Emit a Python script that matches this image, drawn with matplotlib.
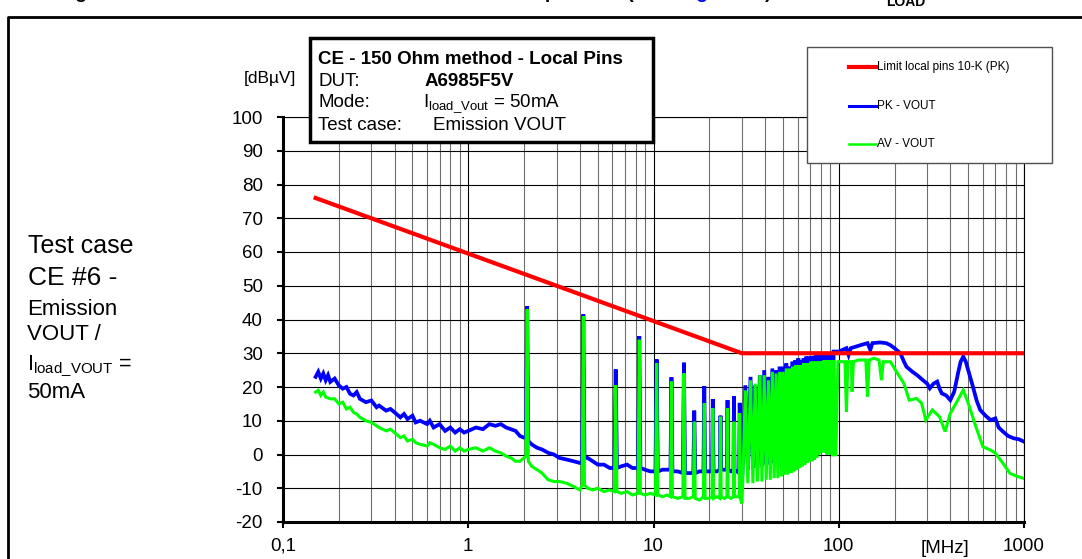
import numpy as np
import matplotlib
matplotlib.use("Agg")
import matplotlib.pyplot as plt
from matplotlib.patches import Rectangle
from matplotlib.lines import Line2D
from matplotlib.ticker import LogLocator, NullFormatter

plt.rcParams['font.family'] = ['Liberation Sans', 'DejaVu Sans']
plt.rcParams['mathtext.fontset'] = 'custom'
plt.rcParams['mathtext.rm'] = 'Liberation Sans'
plt.rcParams['mathtext.it'] = 'Liberation Sans:italic'
plt.rcParams['mathtext.bf'] = 'Liberation Sans:bold'
plt.rcParams['axes.unicode_minus'] = False

# ---------------- data ----------------
x_ticks = [0.1, 1, 10, 100, 1000]
x_tick_labels = ["0,1", "1", "10", "100", "1000"]
y_ticks = [-20, -10, 0, 10, 20, 30, 40, 50, 60, 70, 80, 90, 100]

limit_freq = [0.15, 30, 1000]
limit_db = [76, 30, 30]

# PK (blue) below 30 MHz: (MHz, dBuV)
pk_low = [(0.150, 23.0), (0.155, 24.5), (0.16, 22.5), (0.165, 24.0), (0.17, 22.0), (0.175, 23.5),
          (0.18, 21.5), (0.19, 22.5), (0.20, 20.5), (0.21, 19.5), (0.22, 20.0), (0.23, 18.0),
          (0.24, 17.5), (0.25, 18.5), (0.26, 16.5), (0.28, 15.5), (0.30, 16.0), (0.32, 14.0),
          (0.33, 14.5), (0.36, 13.0), (0.38, 13.5), (0.40, 12.5), (0.43, 11.0), (0.45, 12.0),
          (0.47, 10.5), (0.50, 11.5), (0.52, 9.5), (0.55, 10.0), (0.60, 9.0), (0.62, 10.0),
          (0.65, 8.0), (0.70, 9.0), (0.75, 7.0), (0.80, 8.0), (0.85, 6.5), (0.90, 7.5),
          (0.95, 6.5), (1.0, 7.0), (1.1, 8.0), (1.2, 7.5), (1.3, 9.0), (1.4, 8.5), (1.5, 9.0),
          (1.6, 8.0), (1.7, 7.5), (1.8, 7.0), (1.9, 5.5), (2.0, 5.0), (2.05, 5.0), (2.08, 44.0),
          (2.11, 4.0), (2.2, 3.0), (2.35, 2.0), (2.5, 1.5), (2.7, 0.5), (2.9, 0.0), (3.1, -1.0),
          (3.4, -1.5), (3.7, -2.0), (4.0, -2.5), (4.12, -2.0), (4.18, 41.5), (4.24, -1.0),
          (4.4, -1.0), (4.7, -2.0), (5.0, -3.0), (5.4, -3.0), (5.8, -4.0), (6.15, -4.0),
          (6.25, 25.2), (6.35, -4.0), (6.7, -3.5), (7.2, -3.0), (7.7, -4.0), (8.25, -4.0),
          (8.38, 35.1), (8.5, -4.0), (9.0, -4.5), (9.6, -5.0), (10.25, -5.0), (10.4, 28.2),
          (10.55, -5.0), (11.2, -4.5), (11.8, -4.5), (12.35, -4.5), (12.5, 22.9), (12.65, -5.0),
          (13.5, -5.0), (14.4, -5.5), (14.6, 27.2), (14.8, -5.5), (15.6, -5.5), (16.4, -5.5),
          (16.6, 13.0), (16.8, -5.5), (17.7, -5.0), (18.6, -5.0), (18.8, 20.3), (19.0, -5.0),
          (19.9, -5.0), (20.7, -5.0), (20.9, 16.4), (21.1, -5.0), (22.0, -5.0), (22.8, -4.5),
          (23.0, 11.5), (23.2, -4.5), (24.1, -4.5), (24.9, -4.5), (25.1, 16.1), (25.3, -4.5),
          (26.2, -5.0), (27.0, -5.0), (27.2, 17.3), (27.4, -5.0), (28.2, -5.0), (29.0, -5.5),
          (29.2, 15.3), (29.4, -5.0), (30.2, -5.5)]

# AV (green) below 30 MHz
av_low = [(0.150, 18.5), (0.155, 19.0), (0.16, 17.5), (0.165, 18.5), (0.17, 17.0), (0.18, 16.5),
          (0.19, 16.5), (0.20, 15.0), (0.21, 15.5), (0.22, 13.5), (0.23, 14.0), (0.24, 12.5),
          (0.25, 12.0), (0.26, 11.0), (0.28, 10.0), (0.30, 9.5), (0.32, 8.5), (0.33, 8.0),
          (0.36, 7.0), (0.38, 7.5), (0.40, 6.5), (0.43, 5.0), (0.45, 5.5), (0.47, 4.0),
          (0.50, 4.5), (0.52, 3.5), (0.55, 3.0), (0.60, 2.5), (0.62, 3.5), (0.65, 3.0),
          (0.70, 2.0), (0.75, 1.5), (0.80, 2.5), (0.85, 1.0), (0.90, 2.0), (0.95, 1.0),
          (1.0, 1.5), (1.1, 2.0), (1.2, 1.0), (1.3, 2.0), (1.4, 1.0), (1.5, 0.5), (1.6, -0.5),
          (1.7, -1.0), (1.8, -2.0), (1.9, -2.0), (2.0, -1.0), (2.05, -0.5), (2.08, 43.0),
          (2.11, -2.0), (2.2, -3.5), (2.35, -4.5), (2.5, -5.5), (2.7, -7.5), (2.9, -8.0),
          (3.1, -8.0), (3.4, -8.5), (3.7, -9.5), (4.0, -10.5), (4.12, -9.0), (4.18, 41.0),
          (4.24, -9.0), (4.4, -10.0), (4.7, -10.5), (5.0, -10.0), (5.4, -11.0), (5.8, -10.5),
          (6.15, -11.0), (6.25, 20.6), (6.35, -11.0), (6.7, -11.5), (7.2, -11.0), (7.7, -12.0),
          (8.25, -11.5), (8.38, 34.0), (8.5, -11.5), (9.0, -12.0), (9.6, -11.5), (10.25, -12.0),
          (10.4, 27.0), (10.55, -12.0), (11.2, -12.5), (11.8, -12.0), (12.35, -12.5),
          (12.5, 21.6), (12.65, -12.5), (13.5, -13.0), (14.4, -12.5), (14.6, 24.0),
          (14.8, -13.0), (15.6, -13.0), (16.4, -12.5), (16.6, 9.7), (16.8, -13.0),
          (17.7, -13.5), (18.6, -12.5), (18.8, 15.2), (19.0, -13.0), (19.9, -13.0),
          (20.7, -12.5), (20.9, 13.7), (21.1, -13.0), (22.0, -12.5), (22.8, -13.0),
          (23.0, 11.2), (23.2, -12.5), (24.1, -13.0), (24.9, -12.5), (25.1, 13.7),
          (25.3, -12.5), (26.2, -13.0), (27.0, -12.5), (27.2, 9.7), (27.4, -12.5),
          (28.2, -12.5), (29.0, -12.5), (29.2, 12.2), (29.4, -13.0), (30.0, -14.5),
          (30.3, -8.5)]

# harmonic comb 30 - 95 MHz: peaks and the valleys between them
comb_top_freq = [31.3, 33.4, 35.4, 37.5, 39.6, 41.7, 43.8, 45.9, 48.0, 50.0, 52.1, 54.2, 56.3,
                 58.4, 60.5, 62.6, 64.6, 66.7, 68.8, 70.9, 73.0, 75.1, 77.1, 79.2, 81.3, 83.4,
                 85.5, 87.6, 89.7, 91.7, 93.8]
pk_comb_top = [20.5, 23.0, 20.5, 23.5, 25.0, 23.0, 25.5, 25.0, 26.0, 26.0, 27.0, 26.0, 27.5,
               28.0, 28.5, 28.0, 28.5, 29.0, 29.0, 29.0, 29.2, 29.5, 29.5, 29.8, 30.0, 30.0,
               30.0, 30.2, 30.2, 30.3, 30.5]
av_comb_top = [19.0, 22.0, 21.0, 23.5, 23.5, 22.0, 24.5, 24.0, 24.5, 24.5, 25.5, 25.5, 26.0,
               26.5, 26.5, 26.5, 27.0, 27.0, 27.0, 27.5, 27.5, 27.5, 27.5, 27.5, 27.5, 28.0,
               28.0, 28.0, 28.0, 28.0, 28.0]
comb_valley_freq = [32.3, 34.4, 36.4, 38.5, 40.6, 42.7, 44.8, 46.9, 49.0, 51.0, 53.1, 55.2, 57.3,
                    59.4, 61.5, 63.6, 65.6, 67.7, 69.8, 71.9, 74.0, 76.1, 78.1, 80.2, 82.3, 84.4,
                    86.5, 88.6, 90.7, 92.8]
pk_comb_valley = [-4.5, -4.0, -4.0, -3.5, -3.0, -3.0, -2.5, -2.0, -2.0, -1.5, -1.0, -0.5, 0.0,
                  0.5, 1.0, 1.5, 2.0, 2.5, 3.0, 3.0, 3.5, 4.0, 4.5, 5.0, 5.0, 5.0, 5.0, 5.0,
                  5.0, 4.5]
av_comb_valley = [-8.5, -8.5, -8.0, -8.0, -7.5, -7.5, -7.0, -7.0, -6.5, -6.0, -6.0, -5.5, -5.0,
                  -4.5, -4.0, -3.5, -3.0, -2.5, -2.0, -2.0, -1.5, -1.0, 0.0, 0.5, 1.0, 0.5,
                  0.0, 0.5, 0.0, -0.5]

# above ~95 MHz
pk_high = [(95, 30.5), (100, 30.5), (105, 31.0), (110, 31.5), (113, 29.5), (116, 31.5),
           (124, 32.0), (133, 32.5), (143, 33.0), (148, 31.0), (152, 33.0), (167, 33.2),
           (180, 33.0), (190, 32.4), (200, 31.5), (215, 30.0), (225, 27.5), (232, 26.0),
           (250, 24.5), (265, 23.5), (285, 22.0), (300, 21.0), (310, 19.6), (325, 21.0),
           (340, 21.6), (350, 19.5), (360, 18.1), (380, 17.5), (400, 16.1), (420, 18.6),
           (440, 24.0), (455, 27.5), (470, 29.0), (485, 27.5), (500, 25.0), (530, 20.1),
           (555, 16.0), (580, 13.2), (620, 11.5), (660, 10.2), (700, 10.7), (730, 8.0),
           (770, 6.8), (820, 5.5), (880, 4.8), (940, 4.5), (1000, 3.8)]
av_high = [(96.5, -0.5), (99, 27.5), (102, 27.5), (108, 27.5), (110, 12.7), (112, 27.5),
           (117, 27.5), (118, 18.6), (120, 27.5), (128, 28.0), (140, 28.0), (143, 17.1),
           (146, 28.0), (155, 28.5), (165, 28.0), (170, 22.0), (174, 27.5), (190, 27.5),
           (205, 24.5), (225, 21.0), (240, 16.1), (263, 16.6), (280, 15.2), (295, 10.2),
           (320, 13.2), (350, 11.2), (375, 6.8), (400, 12.2), (430, 15.2), (470, 19.1),
           (500, 15.2), (550, 8.2), (600, 2.3), (660, 1.3), (700, 0.4), (770, -2.6),
           (840, -5.6), (920, -6.5), (1000, -7.1)]


def build(low, tops_f, tops_v, val_f, val_v, high):
    f = [p[0] for p in low] + list(tops_f) + list(val_f) + [p[0] for p in high]
    v = [p[1] for p in low] + list(tops_v) + list(val_v) + [p[1] for p in high]
    f = np.array(f, dtype=float)
    v = np.array(v, dtype=float)
    order = np.argsort(f, kind="stable")
    return f[order], v[order]


pk_f, pk_v = build(pk_low, comb_top_freq, pk_comb_top, comb_valley_freq, pk_comb_valley, pk_high)
av_f, av_v = build(av_low, comb_top_freq, av_comb_top, comb_valley_freq, av_comb_valley, av_high)

# ---------------- figure ----------------
W, H = 1082, 559
fig = plt.figure(figsize=(W / 100, H / 100), dpi=100)
fig.patch.set_facecolor("white")


def fx(px):
    return px / W


def fy(py):
    return 1 - py / H


ax = fig.add_axes([fx(283), fy(522), (1024 - 283) / W, (522 - 117) / H])
ax.set_xscale("log")
ax.set_xlim(0.1, 1000)
ax.set_ylim(-20, 100)
ax.set_yticks(y_ticks)
ax.set_xticks(x_ticks)
ax.set_xticklabels(x_tick_labels)
ax.xaxis.set_minor_locator(LogLocator(base=10, subs=range(2, 10), numticks=50))
ax.xaxis.set_minor_formatter(NullFormatter())
ax.tick_params(axis="x", which="minor", length=0)
ax.tick_params(axis="x", which="major", direction="out", length=4.5, width=1.5,
               pad=7, labelsize=13.5)
ax.tick_params(axis="y", direction="out", length=4.5, width=1.5, pad=10, labelsize=13.5)

ax.grid(which="major", axis="x", color="black", lw=0.8, zorder=0)
ax.grid(which="minor", axis="x", color="#6e6e6e", lw=0.8, zorder=0)
ax.grid(which="major", axis="y", color="black", lw=0.8, zorder=0)
ax.set_axisbelow(True)

for s in ["left", "bottom"]:
    ax.spines[s].set_linewidth(2.2)
for s in ["top", "right"]:
    ax.spines[s].set_linewidth(0.8)

ax.plot(pk_f, pk_v, color="#0000ff", lw=2.7, zorder=3, solid_joinstyle="miter")
ax.plot(av_f, av_v, color="#00ff00", lw=2.2, zorder=4, solid_joinstyle="miter")
ax.plot(limit_freq, limit_db, color="#ff0000", lw=3.0, zorder=5)


def T(x, y, s, **kw):
    kw.setdefault("va", "baseline")
    kw.setdefault("ha", "left")
    return fig.text(fx(x), fy(y), s, **kw)


# axis unit labels
T(270, 83, "[dBµV]", fontsize=12.5, ha="center")
T(945, 553, "[MHz]", fontsize=13.5, ha="center")

# left description
T(28, 253, "Test case", fontsize=18)
T(28, 285, "CE #6 -", fontsize=19)
T(27, 315, "Emission", fontsize=16)
T(27, 340, "VOUT /", fontsize=16)
T(27, 370, r"$\mathregular{I_{load\_VOUT}}$ =", fontsize=15.5)
T(27, 398, "50mA", fontsize=16)

# info box
fig.patches.append(Rectangle((fx(310), fy(142)), (653 - 310) / W, (142 - 38) / H,
                             transform=fig.transFigure, facecolor="white",
                             edgecolor="black", lw=2.5, zorder=10))
T(318, 64, "CE - 150 Ohm method - Local Pins", fontsize=13.5, fontweight="bold", zorder=11)
T(318, 86, "DUT:", fontsize=13.5, zorder=11)
T(425, 86, "A6985F5V", fontsize=13.5, fontweight="bold", zorder=11)
T(318, 107, "Mode:", fontsize=13.5, zorder=11)
T(423, 107, r"$\mathregular{I_{load\_Vout}}$ = 50mA", fontsize=13.5, zorder=11)
T(318, 130, "Test case:", fontsize=13.5, zorder=11)
T(433, 130, "Emission VOUT", fontsize=13.5, zorder=11)

# legend box
fig.patches.append(Rectangle((fx(807), fy(163)), (1052 - 807) / W, (163 - 47) / H,
                             transform=fig.transFigure, facecolor="white",
                             edgecolor="#505050", lw=1.0, zorder=10))
legend_items = [("Limit local pins 10-K (PK)", "#ff0000", 3.0, 67),
                ("PK - VOUT", "#0000ff", 2.2, 106),
                ("AV - VOUT", "#00ff00", 1.8, 144)]
for label, col, lw, ypx in legend_items:
    fig.lines.append(Line2D([fx(849), fx(876)], [fy(ypx), fy(ypx)], color=col, lw=lw,
                            transform=fig.transFigure, zorder=11))
    T(877, ypx, label, fontsize=8.5, va="center", zorder=11)

# outer frame
fig.lines.append(Line2D([fx(8), fx(8), fx(1082)], [fy(559), fy(17), fy(17)], color="black",
                        lw=2.0, transform=fig.transFigure, zorder=1))

# cut-off caption above the frame (only its lower edge is visible)
T(58, -2, "Figure 48. CE #6 emission on VOUT", fontsize=14, fontweight="bold")
T(534, -2, "spectrum (see ", fontsize=14, fontweight="bold")
T(679, -2, "Figure 27", fontsize=14, fontweight="bold", color="#0000ff")
T(765, -2, ") with", fontsize=14, fontweight="bold")
T(878, -2, "I", fontsize=14, fontweight="bold")
T(886, 6, "LOAD", fontsize=10, fontweight="bold")

fig.savefig("out.png", dpi=100)
